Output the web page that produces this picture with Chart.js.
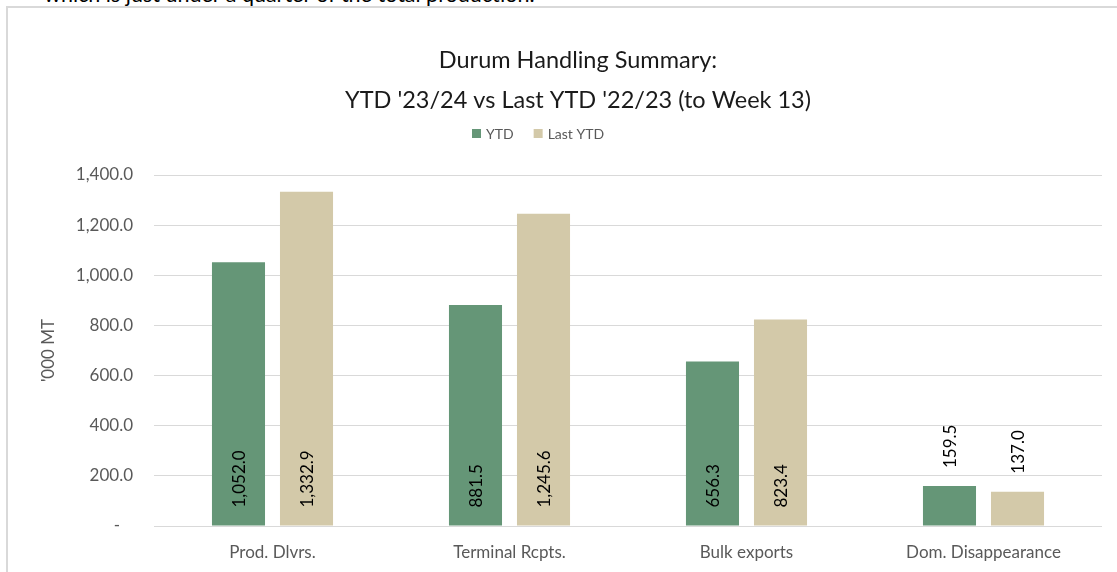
<!DOCTYPE html>
<html>
<head>
<meta charset="utf-8">
<script src="https://cdn.jsdelivr.net/npm/chart.js@4"></script>
<style>
    body { margin: 0; background: #fff; overflow: hidden; width: 1117px; height: 572px; position: relative; }
    #para { position: absolute; left: 44px; top: -19px; font: 21.5px Lato, sans-serif; color: #000; white-space: nowrap; }
    #frame { position: absolute; left: 6px; top: 6px; width: 1160px; height: 600px; border: 2px solid #d9d9d9; }
    #c { position: absolute; left: 0; top: 0; }
</style>
</head>
<body>
<div id="para">which is just under a quarter of the total production.</div>
<div id="frame"><canvas id="c" width="1140" height="580"></canvas></div>
<script>
const categories = ["Prod. Dlvrs.", "Terminal Rcpts.", "Bulk exports", "Dom. Disappearance"];
const ytd = [1052.0, 881.5, 656.3, 159.5];
const lastYtd = [1332.9, 1245.6, 823.4, 137.0];
const titleLines = ["Durum Handling Summary:", "YTD '23/24 vs Last YTD '22/23 (to Week 13)"];
const seriesNames = ["YTD", "Last YTD"];
const yMin = 0, yMax = 1400, yStep = 200;

const green = "#659677";
const tan = "#D3C9A9";
const fontName = "Lato, sans-serif";

function fmt(v) {
    return v.toLocaleString("en-US", { minimumFractionDigits: 1, maximumFractionDigits: 1 });
}

// title + legend drawn by hand so they can sit where Excel put them
const header = {
    id: "header",
    afterDraw(chart) {
        const ctx = chart.ctx;
        ctx.save();
        ctx.fillStyle = "#1a1a1a";
        ctx.font = "23.5px " + fontName;
        ctx.textAlign = "center";
        ctx.textBaseline = "middle";
        ctx.fillText(titleLines[0], 570, 52);
        ctx.fillText(titleLines[1], 570, 92);

        ctx.font = "14px " + fontName;
        ctx.textAlign = "left";
        let x = 464;
        const colors = [green, tan];
        seriesNames.forEach((name, i) => {
            ctx.fillStyle = colors[i];
            ctx.fillRect(x, 121, 9, 9);
            ctx.fillStyle = "#595959";
            ctx.fillText(name, x + 14, 126);
            x += 14 + ctx.measureText(name).width + 20;
        });
        ctx.restore();
    }
};

// value labels, rotated, inside base when they fit, above the bar otherwise
const valueLabels = {
    id: "valueLabels",
    afterDatasetsDraw(chart) {
        const ctx = chart.ctx;
        ctx.save();
        ctx.font = "17px " + fontName;
        ctx.fillStyle = "#000";
        ctx.textAlign = "left";
        ctx.textBaseline = "middle";
        chart.data.datasets.forEach((ds, di) => {
            chart.getDatasetMeta(di).data.forEach((bar, i) => {
                const txt = fmt(ds.data[i]);
                const w = ctx.measureText(txt).width;
                const h = bar.base - bar.y;
                const start = h > w + 36 ? bar.base - 18 : bar.y - 18;
                ctx.save();
                ctx.translate(bar.x, start);
                ctx.rotate(-Math.PI / 2);
                ctx.fillText(txt, 0, 1);
                ctx.restore();
            });
        });
        ctx.restore();
    }
};

new Chart(document.getElementById("c"), {
    type: "bar",
    data: {
        labels: categories,
        datasets: [
            { label: seriesNames[0], data: ytd, backgroundColor: green, categoryPercentage: 0.574, barPercentage: 0.78 },
            { label: seriesNames[1], data: lastYtd, backgroundColor: tan, categoryPercentage: 0.574, barPercentage: 0.78 }
        ]
    },
    options: {
        responsive: false,
        animation: false,
        layout: { padding: { top: 167, left: 30, right: 46, bottom: 12 } },
        plugins: {
            legend: { display: false },
            title: { display: false },
            tooltip: { enabled: false }
        },
        scales: {
            x: {
                grid: { display: false, drawTicks: false },
                border: { display: false },
                ticks: { color: "#595959", font: { family: fontName, size: 17 }, padding: 16 },
                afterFit: s => { s.height = 50; }
            },
            y: {
                min: yMin,
                max: yMax,
                grid: { color: "#d9d9d9", lineWidth: 1, drawTicks: false },
                border: { display: false },
                ticks: {
                    stepSize: yStep,
                    color: "#595959",
                    font: { family: fontName, size: 17 },
                    padding: 21,
                    callback: v => v === 0 ? "-   " : fmt(v)
                },
                title: {
                    display: true,
                    text: "'000 MT",
                    color: "#595959",
                    font: { family: fontName, size: 17 },
                    padding: { top: 0, bottom: 0 }
                },
                afterFit: s => { s.width = 116; }
            }
        }
    },
    plugins: [header, valueLabels]
});
</script>
</body>
</html>
